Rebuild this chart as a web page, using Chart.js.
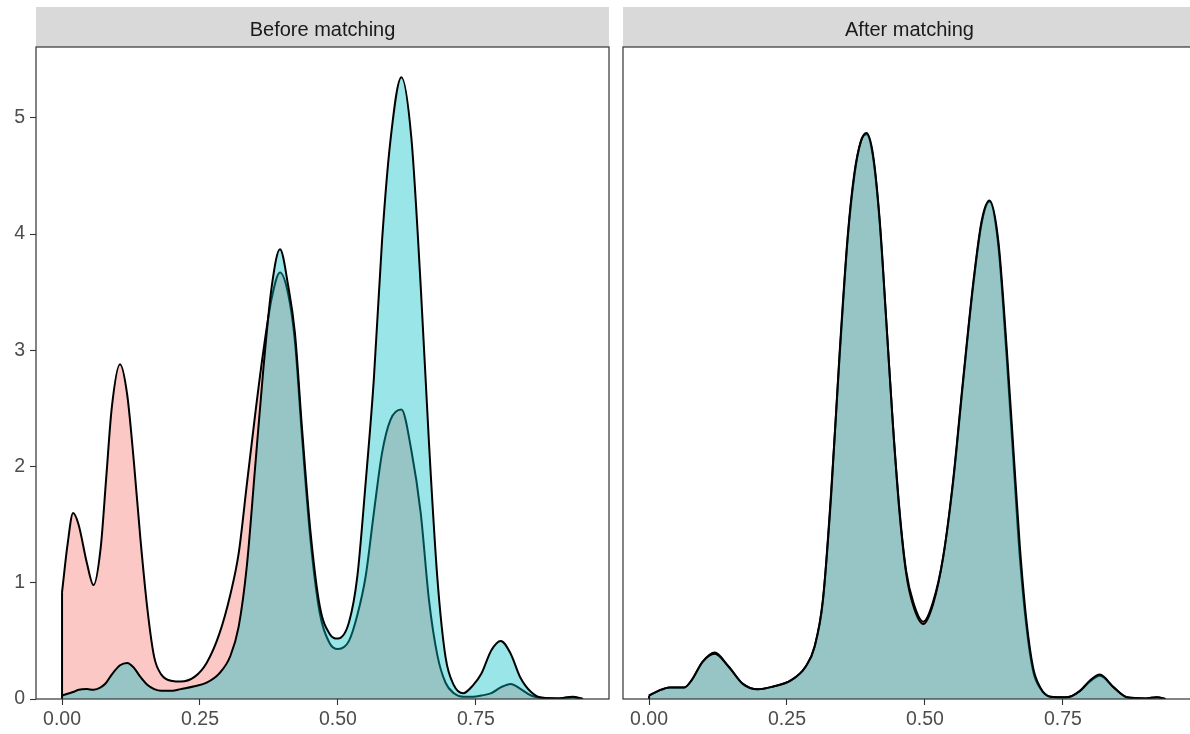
<!DOCTYPE html>
<html>
<head>
<meta charset="utf-8">
<script src="https://cdn.jsdelivr.net/npm/chart.js@4.4.1/dist/chart.umd.min.js"></script>
<style>
  html, body { margin: 0; padding: 0; background: #fff; overflow: hidden; width: 1190px; height: 734px; }
  canvas { position: absolute; top: 0; }
</style>
</head>
<body>
<canvas id="before" width="612" height="734" style="left:0px"></canvas>
<canvas id="after" width="590" height="734" style="left:612px"></canvas>
<script>
const panelTitles = ["Before matching", "After matching"];
const xTicks = [0, 0.25, 0.5, 0.75];
const yTicks = [0, 1, 2, 3, 4, 5];

// before matching: density estimates per group
const xBefore = [0, 0.01, 0.02, 0.03, 0.045, 0.057, 0.07, 0.08, 0.09, 0.105,
  0.118, 0.13, 0.142, 0.155, 0.167, 0.18, 0.2, 0.215, 0.24, 0.262,
  0.285, 0.305, 0.32, 0.335, 0.35, 0.365, 0.38, 0.395, 0.41, 0.422,
  0.435, 0.45, 0.467, 0.485, 0.5, 0.52, 0.535, 0.55, 0.565, 0.58,
  0.595, 0.615, 0.633, 0.65, 0.665, 0.68, 0.695, 0.71, 0.727, 0.745,
  0.76, 0.778, 0.795, 0.813, 0.83, 0.85, 0.87, 0.9, 0.925, 0.944];
const redBefore = [0.92, 1.33, 1.60, 1.50, 1.17, 0.98, 1.30, 1.90, 2.50, 2.88,
  2.62, 2.05, 1.38, 0.76, 0.36, 0.21, 0.155, 0.15, 0.19, 0.31,
  0.56, 0.90, 1.25, 1.85, 2.45, 3.00, 3.45, 3.67, 3.48, 3.08,
  2.25, 1.38, 0.74, 0.48, 0.43, 0.50, 0.72, 1.05, 1.60, 2.12,
  2.40, 2.49, 2.14, 1.60, 0.85, 0.38, 0.14, 0.05, 0.02, 0.02,
  0.03, 0.05, 0.10, 0.13, 0.09, 0.03, 0.01, 0.005, 0.015, 0];
const cyanBefore = [0.03, 0.045, 0.06, 0.08, 0.085, 0.08, 0.10, 0.14, 0.21, 0.29,
  0.31, 0.27, 0.19, 0.12, 0.085, 0.07, 0.07, 0.085, 0.11, 0.14,
  0.22, 0.37, 0.62, 1.15, 2.00, 2.85, 3.55, 3.87, 3.55, 3.15,
  2.32, 1.45, 0.80, 0.56, 0.52, 0.66, 1.05, 1.85, 2.75, 3.95,
  4.80, 5.35, 4.83, 3.55, 2.20, 1.05, 0.36, 0.12, 0.05, 0.12,
  0.22, 0.42, 0.50, 0.39, 0.19, 0.06, 0.01, 0.005, 0.02, 0];

// after matching
const xAfter = [0, 0.017, 0.037, 0.064, 0.077, 0.097, 0.119, 0.144, 0.17, 0.197,
  0.224, 0.257, 0.284, 0.3, 0.315, 0.33, 0.345, 0.36, 0.372, 0.384,
  0.394, 0.406, 0.418, 0.43, 0.442, 0.454, 0.466, 0.479, 0.497, 0.515,
  0.533, 0.551, 0.569, 0.588, 0.603, 0.617, 0.633, 0.648, 0.66, 0.672,
  0.684, 0.696, 0.709, 0.727, 0.757, 0.781, 0.799, 0.817, 0.842, 0.866,
  0.9, 0.92, 0.936];
const redAfter = [0.03, 0.07, 0.10, 0.10, 0.16, 0.32, 0.40, 0.28, 0.13, 0.083,
  0.106, 0.16, 0.28, 0.45, 0.84, 1.78, 2.92, 3.96, 4.50, 4.80,
  4.86, 4.66, 4.10, 3.24, 2.36, 1.62, 1.10, 0.83, 0.665, 0.84,
  1.22, 1.86, 2.72, 3.58, 4.10, 4.28, 3.90, 2.95, 2.08, 1.22,
  0.62, 0.24, 0.09, 0.02, 0.015, 0.07, 0.15, 0.20, 0.10, 0.015,
  0.005, 0.015, 0];
const cyanAfter = [0.03, 0.07, 0.10, 0.10, 0.16, 0.32, 0.39, 0.28, 0.13, 0.083,
  0.106, 0.16, 0.28, 0.45, 0.85, 1.75, 2.95, 3.98, 4.52, 4.80,
  4.87, 4.68, 4.12, 3.25, 2.35, 1.60, 1.08, 0.80, 0.645, 0.82,
  1.22, 1.88, 2.74, 3.60, 4.12, 4.29, 3.94, 3.03, 2.17, 1.31,
  0.67, 0.27, 0.10, 0.02, 0.015, 0.07, 0.16, 0.21, 0.10, 0.015,
  0.005, 0.015, 0];

const FONT = "'Liberation Sans', Arial, sans-serif";

const panelFrame = {
  id: "panelFrame",
  beforeDraw(chart, args, opts) {
    const { ctx, chartArea: a } = chart;
    ctx.save();
    ctx.fillStyle = "#D9D9D9";
    ctx.fillRect(a.left, 7, a.right - a.left, a.top - 7);
    ctx.fillStyle = "#1A1A1A";
    ctx.font = "20px " + FONT;
    ctx.textAlign = "center";
    ctx.textBaseline = "middle";
    ctx.fillText(opts.title, (a.left + a.right) / 2, (7 + a.top) / 2 + 3);
    ctx.restore();
  },
  afterDraw(chart) {
    const { ctx, chartArea: a } = chart;
    ctx.save();
    ctx.strokeStyle = "#333333";
    ctx.lineWidth = 1.2;
    ctx.strokeRect(a.left, a.top, a.right - a.left, a.bottom - a.top);
    ctx.restore();
  }
};

function densitySet(xs, ys, fillColor, order) {
  return {
    data: xs.map((x, i) => ({ x: x, y: ys[i] })),
    borderColor: "#000000",
    borderWidth: 2,
    backgroundColor: fillColor,
    fill: "origin",
    pointRadius: 0,
    cubicInterpolationMode: "monotone",
    order: order
  };
}

// vertical edge where the density starts above zero
function edgeSet(xs, ys) {
  return {
    data: [{ x: xs[0], y: 0 }, { x: xs[0], y: ys[0] }],
    borderColor: "#000000",
    borderWidth: 2,
    fill: false,
    pointRadius: 0,
    tension: 0,
    order: 0
  };
}

function makePanel(id, title, xs, red, cyan, showY, yWidth, padRight) {
  return new Chart(document.getElementById(id), {
    type: "line",
    data: {
      datasets: [
        densitySet(xs, red, "rgba(248,118,109,0.4)", 2),
        densitySet(xs, cyan, "rgba(0,191,196,0.4)", 1),
        edgeSet(xs, red)
      ]
    },
    options: {
      responsive: false,
      animation: false,
      devicePixelRatio: 1,
      layout: { padding: { top: 47, right: padRight, left: 0, bottom: 0 } },
      plugins: {
        legend: { display: false },
        tooltip: { enabled: false },
        panelFrame: { title: title }
      },
      scales: {
        x: {
          type: "linear",
          min: -0.0472,
          max: 0.9912,
          afterBuildTicks: (s) => { s.ticks = xTicks.map((v) => ({ value: v })); },
          afterFit: (s) => { s.height = 35; },
          ticks: {
            callback: (v) => Number(v).toFixed(2),
            font: { size: 19.5, family: FONT },
            color: "#4D4D4D",
            padding: 3,
            maxRotation: 0
          },
          grid: { drawOnChartArea: false, drawTicks: true, tickLength: 6, tickColor: "#333333", tickWidth: 1.1 },
          border: { display: false }
        },
        y: {
          min: 0,
          max: 5.61,
          afterBuildTicks: (s) => { s.ticks = yTicks.map((v) => ({ value: v })); },
          afterFit: (s) => { s.width = yWidth; },
          ticks: {
            display: showY,
            callback: (v) => String(v),
            font: { size: 19.5, family: FONT },
            color: "#4D4D4D",
            padding: 5
          },
          grid: { drawOnChartArea: false, drawTicks: showY, tickLength: 6, tickColor: "#333333", tickWidth: 1.1 },
          border: { display: false }
        }
      }
    },
    plugins: [panelFrame]
  });
}

makePanel("before", panelTitles[0], xBefore, redBefore, cyanBefore, true, 36, 3);
makePanel("after", panelTitles[1], xAfter, redAfter, cyanAfter, false, 11, 6);
</script>
</body>
</html>
